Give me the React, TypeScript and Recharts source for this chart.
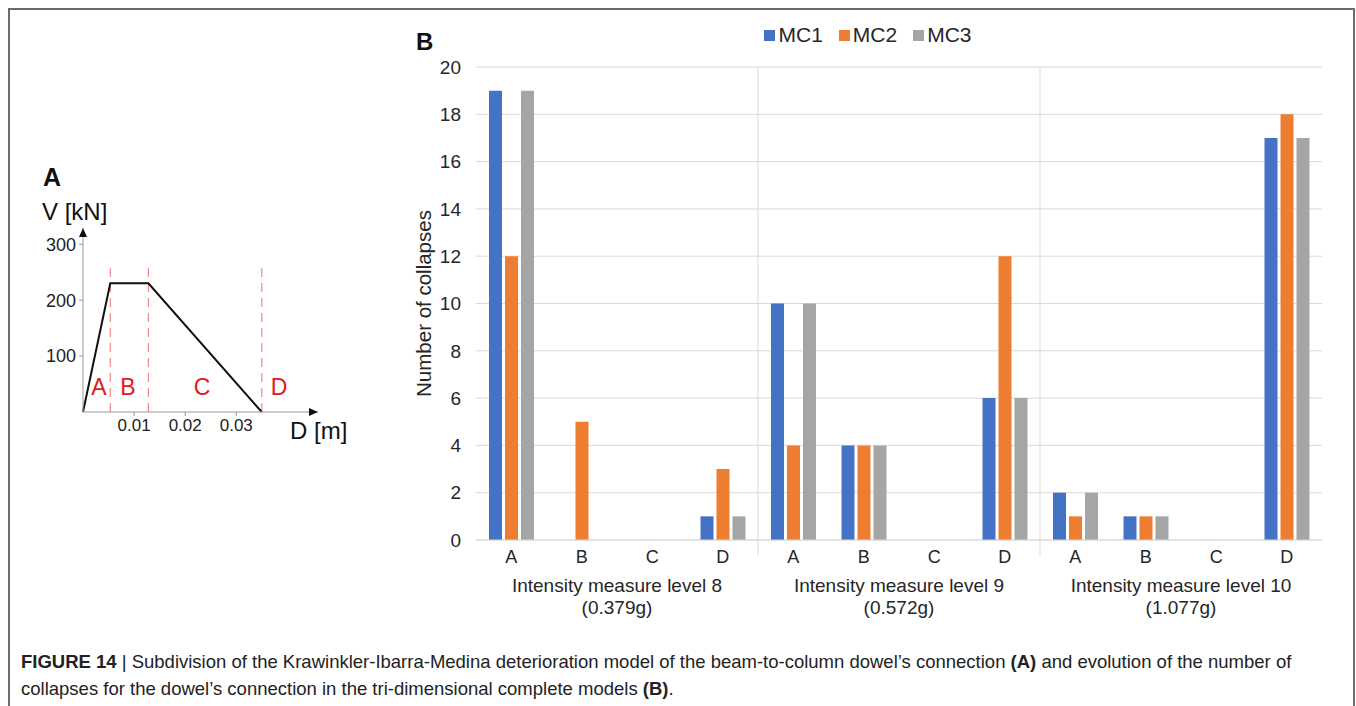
import {
  BarChart, Bar, XAxis, YAxis, CartesianGrid, Legend, ReferenceLine,
  ComposedChart, Line, ReferenceDot,
} from 'recharts';

// panel B data
const zones = ['A', 'B', 'C', 'D'];
const levels = ['8', '9', '10'];
const levelNames = ['Intensity measure level 8', 'Intensity measure level 9', 'Intensity measure level 10'];
const levelPga = ['(0.379g)', '(0.572g)', '(1.077g)'];
const mc1 = [19, 0, 0, 1, 10, 4, 0, 6, 2, 1, 0, 17];
const mc2 = [12, 5, 0, 3, 4, 4, 0, 12, 1, 1, 0, 18];
const mc3 = [19, 0, 0, 1, 10, 4, 0, 6, 2, 1, 0, 17];
const yTicks = [0, 2, 4, 6, 8, 10, 12, 14, 16, 18, 20];

// panel A data (Krawinkler-Ibarra-Medina backbone)
const kimDisp = [0, 0.00534, 0.0128, 0.035];
const kimForce = [0, 230, 230, 0];
const zoneBounds = [0.00534, 0.0128, 0.035];
const zoneLabelX = [0.0031, 0.0088, 0.0233, 0.0384];
const zoneLabelY = 45;
const kimXTicks = [0.01, 0.02, 0.03];
const kimYTicks = [100, 200, 300];

const COLORS = { MC1: '#4472C4', MC2: '#ED7D31', MC3: '#A5A5A5' };
const FONT = '"Liberation Sans", Arial, Helvetica, sans-serif';

const rows = mc1.map((v, i) => ({
  key: `${levels[Math.floor(i / 4)]}-${zones[i % 4]}`,
  zone: zones[i % 4],
  group: Math.floor(i / 4),
  MC1: v,
  MC2: mc2[i],
  MC3: mc3[i],
}));

const kimRows = kimDisp.map((d, i) => ({ d, v: kimForce[i] }));

// chart B geometry
const B_W = 970;
const B_H = 620;
const B_MARGIN = { top: 47, right: 28, bottom: 10, left: 30 };
const B_YAXIS_W = 66;
const BAND = (B_W - B_MARGIN.left - B_MARGIN.right - B_YAXIS_W) / rows.length;

function ZoneTick(props: any) {
  const { x, y, index } = props;
  const row = rows[index];
  if (!row) return null;
  const zi = index % 4;
  return (
    <g>
      <text x={x} y={y + 23} textAnchor="middle" fontSize={18} fill="#262626">
        {row.zone}
      </text>
      {zi === 1 && (
        <>
          <text x={x + BAND / 2} y={y + 52} textAnchor="middle" fontSize={19} fill="#262626">
            {levelNames[row.group]}
          </text>
          <text x={x + BAND / 2} y={y + 74} textAnchor="middle" fontSize={19} fill="#262626">
            {levelPga[row.group]}
          </text>
        </>
      )}
      {zi === 3 && row.group < levels.length - 1 && (
        <line x1={x + BAND / 2} x2={x + BAND / 2} y1={y} y2={y + 15} stroke="#d9d9d9" />
      )}
    </g>
  );
}

function LegendContent(props: any) {
  const { payload } = props;
  return (
    <div style={{ display: 'flex', justifyContent: 'center', gap: 16, fontSize: 21, color: '#262626' }}>
      {(payload || []).map((e: any) => (
        <span key={e.value} style={{ display: 'flex', alignItems: 'center' }}>
          <span style={{ width: 11, height: 11, background: e.color, marginRight: 3, display: 'inline-block' }} />
          <span>{e.value}</span>
        </span>
      ))}
    </div>
  );
}

function ZoneLetter(props: any) {
  const { cx, cy, letter } = props;
  return (
    <text x={cx} y={cy} textAnchor="middle" dominantBaseline="central" fontSize={23} fill="#e3171d">
      {letter}
    </text>
  );
}

export default function App() {
  const kimXMax = 0.046;
  const kimYMax = 329;
  return (
    <div style={{ position: 'absolute', left: 0, top: 0, width: 1356, height: 706, background: '#fff', fontFamily: FONT, overflow: 'hidden' }}>
      <div style={{ position: 'absolute', left: 8, top: 8, width: 1343, height: 700, borderTop: '2px solid #6b6b6b', borderLeft: '2px solid #6b6b6b', borderRight: '2px solid #6b6b6b' }} />

      {/* panel A */}
      <div style={{ position: 'absolute', left: 43, top: 163, fontSize: 25, fontWeight: 700, color: '#111' }}>A</div>
      <div style={{ position: 'absolute', left: 42, top: 198, fontSize: 24, color: '#111' }}>V [kN]</div>
      <div style={{ position: 'absolute', left: 290, top: 417, fontSize: 24, color: '#111' }}>D [m]</div>
      <div style={{ position: 'absolute', left: 0, top: 200 }}>
        <ComposedChart width={360} height={250} data={kimRows} margin={{ top: 28, right: 42, bottom: 8, left: 23 }}>
          <XAxis
            dataKey="d"
            type="number"
            domain={[0, kimXMax]}
            ticks={kimXTicks}
            tickFormatter={(v: number) => v.toFixed(2)}
            height={30}
            stroke="#9a9a9a"
            tick={{ fill: '#222', fontSize: 17 }}
            tickSize={4}
            tickMargin={3}
          />
          <YAxis
            dataKey="v"
            type="number"
            domain={[0, kimYMax]}
            ticks={kimYTicks}
            width={60}
            stroke="#9a9a9a"
            tick={{ fill: '#222', fontSize: 18 }}
            tickSize={4}
            tickMargin={3}
          />
          {zoneBounds.map((b) => (
            <ReferenceLine
              key={b}
              segment={[{ x: b, y: 0 }, { x: b, y: 268 }]}
              stroke="#f08a8a"
              strokeDasharray="9 6"
              strokeWidth={1.2}
            />
          ))}
          <Line dataKey="v" stroke="#111" strokeWidth={2} dot={false} isAnimationActive={false} />
          {zoneLabelX.map((x, i) => (
            <ReferenceDot
              key={zones[i]}
              x={x}
              y={zoneLabelY}
              ifOverflow="visible"
              shape={(p: any) => <ZoneLetter {...p} letter={zones[i]} />}
            />
          ))}
          <ReferenceDot
            x={0}
            y={kimYMax}
            ifOverflow="visible"
            shape={(p: any) => <path d={`M${p.cx - 4},${p.cy + 9} L${p.cx},${p.cy} L${p.cx + 4},${p.cy + 9} Z`} fill="#111" />}
          />
          <ReferenceDot
            x={kimXMax}
            y={0}
            ifOverflow="visible"
            shape={(p: any) => <path d={`M${p.cx - 9},${p.cy - 4} L${p.cx},${p.cy} L${p.cx - 9},${p.cy + 4} Z`} fill="#111" />}
          />
        </ComposedChart>
      </div>

      {/* panel B */}
      <div style={{ position: 'absolute', left: 416, top: 28, fontSize: 24, fontWeight: 700, color: '#111' }}>B</div>
      <div style={{ position: 'absolute', left: 380, top: 20 }}>
        <BarChart width={B_W} height={B_H} data={rows} margin={B_MARGIN} barSize={13} barGap={3}>
          <CartesianGrid vertical={false} stroke="#d9d9d9" />
          <XAxis
            dataKey="key"
            height={90}
            interval={0}
            stroke="#d9d9d9"
            tickLine={false}
            tickSize={0}
            tickMargin={0}
            tick={<ZoneTick />}
          />
          <YAxis
            domain={[0, 20]}
            ticks={yTicks}
            width={B_YAXIS_W}
            axisLine={false}
            tickLine={false}
            tickMargin={9}
            tick={{ fill: '#262626', fontSize: 19 }}
            label={{ value: 'Number of collapses', angle: -90, position: 'insideLeft', offset: 14, style: { textAnchor: 'middle', fontSize: 20.5, fill: '#262626' } }}
          />
          <ReferenceLine x="8-D" position="end" stroke="#d9d9d9" />
          <ReferenceLine x="9-D" position="end" stroke="#d9d9d9" />
          <Legend
            layout="horizontal"
            verticalAlign="middle"
            align="center"
            wrapperStyle={{ top: 3, left: 338, width: 300 }}
            content={<LegendContent />}
          />
          <Bar dataKey="MC1" name="MC1" fill={COLORS.MC1} isAnimationActive={false} />
          <Bar dataKey="MC2" name="MC2" fill={COLORS.MC2} isAnimationActive={false} />
          <Bar dataKey="MC3" name="MC3" fill={COLORS.MC3} isAnimationActive={false} />
        </BarChart>
      </div>

      {/* caption */}
      <div style={{ position: 'absolute', left: 21, top: 648, fontSize: 18.5, lineHeight: '27px', color: '#222', whiteSpace: 'nowrap' }}>
        <b>FIGURE 14</b> | Subdivision of the Krawinkler-Ibarra-Medina deterioration model of the beam-to-column dowel’s connection <b>(A)</b> and evolution of the number of
        <br />
        collapses for the dowel’s connection in the tri-dimensional complete models <b>(B)</b>.
      </div>
    </div>
  );
}
